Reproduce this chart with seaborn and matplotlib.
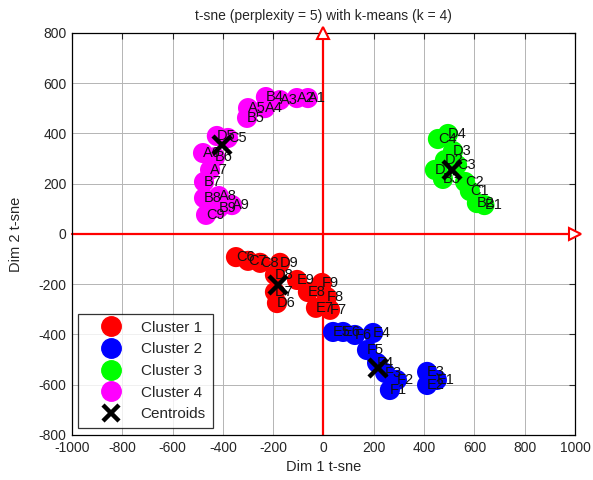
import numpy as np
import pandas as pd
import matplotlib
matplotlib.use("Agg")
import matplotlib.pyplot as plt
import seaborn as sns
from matplotlib.lines import Line2D

sns.set_style("white")
plt.rcParams['font.family'] = ['Liberation Sans', 'DejaVu Sans']
plt.rcParams['axes.unicode_minus'] = False

# ---- data ----
labels_c1 = ["C6", "C7", "C8", "D9", "D8", "E9", "D7", "D6", "E8", "F9", "F8", "E7", "F7"]
x_c1 = [-348, -300, -252, -173, -193, -105, -193, -185, -62, -6, 14, -30, 26]
y_c1 = [-92, -107, -115, -115, -163, -183, -231, -275, -231, -195, -251, -294, -302]

labels_c2 = ["E5", "E6", "F6", "E4", "F5", "F4", "F3", "F2", "F1", "E3", "E2", "E1"]
x_c2 = [38, 78, 125, 197, 173, 213, 245, 292, 264, 412, 412, 451]
y_c2 = [-390, -390, -402, -394, -462, -513, -553, -581, -621, -549, -601, -581]

labels_c3 = ["D4", "C4", "D3", "D2", "C3", "D1", "B3", "C2", "C1", "B2", "B1"]
x_c3 = [495, 455, 515, 483, 531, 443, 475, 563, 582, 610, 640]
y_c3 = [398, 378, 330, 294, 275, 255, 219, 207, 171, 123, 115]

labels_c4 = ["A1", "A2", "A3", "B4", "A4", "A5", "B5", "D5", "C5", "A6", "B6",
             "A7", "B7", "B8", "A8", "B9", "A9", "C9"]
x_c4 = [-62, -106, -173, -229, -233, -300, -304, -424, -380, -479, -431,
        -451, -475, -475, -416, -416, -364, -467]
y_c4 = [541, 541, 533, 545, 501, 501, 462, 390, 382, 322, 306,
        255, 207, 143, 151, 103, 115, 76]

centroid_x = [-181, 217, 511, -404]
centroid_y = [-203, -533, 255, 354]

cluster_names = ["Cluster 1", "Cluster 2", "Cluster 3", "Cluster 4"]
cluster_colors = ["#ff0000", "#0000ff", "#00ff00", "#ff00ff"]

xticks = [-1000, -800, -600, -400, -200, 0, 200, 400, 600, 800, 1000]
yticks = [-800, -600, -400, -200, 0, 200, 400, 600, 800]

# ---- build table ----
frames = []
for name, xs, ys, ls in zip(cluster_names, [x_c1, x_c2, x_c3, x_c4],
                            [y_c1, y_c2, y_c3, y_c4],
                            [labels_c1, labels_c2, labels_c3, labels_c4]):
    frames.append(pd.DataFrame({"x": xs, "y": ys, "label": ls, "cluster": name}))
df = pd.concat(frames, ignore_index=True)

fig = plt.figure(figsize=(5.93, 4.80), dpi=100)
ax = fig.add_axes([0.1214, 0.0938, 0.8482, 0.8375])

ax.set_xlim(-1000, 1000)
ax.set_ylim(-800, 800)
ax.set_xticks(xticks)
ax.set_yticks(yticks)
ax.grid(True, color="#b4b4b4", linestyle="-", linewidth=0.7, zorder=0)
ax.set_axisbelow(True)

# red axes through origin
ax.plot([0, 0], [-800, 800], color="red", lw=1.6, zorder=1, clip_on=False)
ax.plot([-1000, 1000], [0, 0], color="red", lw=1.6, zorder=1, clip_on=False)
ax.plot([0], [800], marker="^", ms=9, mfc="white", mec="red", mew=1.5,
        clip_on=False, zorder=5)
ax.plot([1000], [0], marker=">", ms=9, mfc="white", mec="red", mew=1.5,
        clip_on=False, zorder=5)

sns.scatterplot(data=df, x="x", y="y", hue="cluster", hue_order=cluster_names,
                palette=cluster_colors, s=210, edgecolor="none", ax=ax,
                legend=False, zorder=3)

for _, r in df.iterrows():
    ax.text(r["x"], r["y"], r["label"], fontsize=10.5, ha="left", va="center",
            zorder=4, color="#111111")

ax.plot(centroid_x, centroid_y, linestyle="none", marker="x", ms=13, mew=3.2,
        color="black", zorder=6)

ax.set_title("t-sne (perplexity = 5) with k-means (k = 4)", fontsize=10, pad=9)
ax.set_xlabel("Dim 1 t-sne", fontsize=10.5, labelpad=4)
ax.set_ylabel("Dim 2 t-sne", fontsize=10.5, labelpad=11)
ax.tick_params(axis="both", labelsize=10, direction="in", length=4,
               top=True, right=True, width=0.8, pad=4)
for sp in ax.spines.values():
    sp.set_color("black")
    sp.set_linewidth(0.9)

handles = [Line2D([], [], linestyle="none", marker="o", ms=14, mfc=c, mec=c)
           for c in cluster_colors]
handles.append(Line2D([], [], linestyle="none", marker="x", ms=11, mew=3.2,
                      color="black"))
leg = ax.legend(handles, cluster_names + ["Centroids"], loc="lower left",
                bbox_to_anchor=(0.012, 0.017), borderaxespad=0, fontsize=11,
                frameon=True, fancybox=False, edgecolor="black",
                handletextpad=0.25, labelspacing=0.5, borderpad=0.45,
                handlelength=3.4)
leg.get_frame().set_linewidth(0.9)
leg.set_zorder(10)

fig.savefig("out.png", dpi=100)
